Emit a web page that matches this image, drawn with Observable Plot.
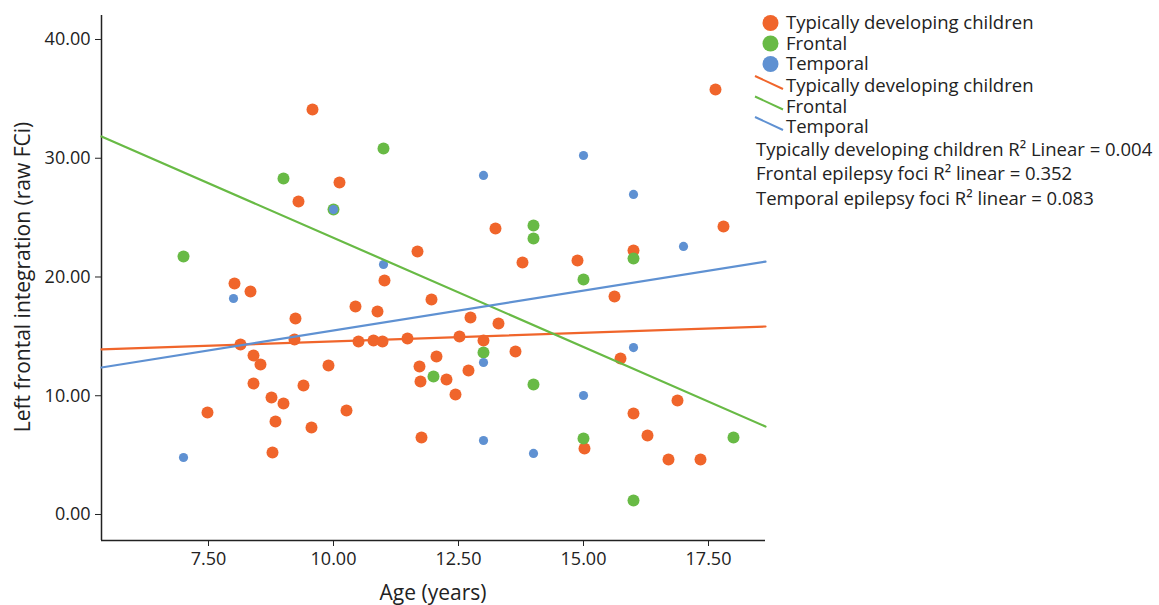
<!DOCTYPE html>
<html>
<head>
<meta charset="utf-8">
<script src="https://cdn.jsdelivr.net/npm/d3@7"></script>
<script src="https://cdn.jsdelivr.net/npm/@observablehq/plot@0.6"></script>
<style>
  body { margin: 0; background: #fff; }
  #wrap { position: relative; width: 1159px; height: 605px; font-family: "Open Sans", sans-serif; color: #222; }
  .t { position: absolute; white-space: nowrap; line-height: 16px; }
  .lg { font-size: 18.5px; }
  .title { font-size: 21px; line-height: 22px; }
  #glyphs { position: absolute; left: 0; top: 0; pointer-events: none; }
</style>
</head>
<body>
<div id="wrap"></div>
<script>
// ---- data ----
const tdAge = [7.48, 8.02, 8.34, 8.14, 8.40, 8.54, 8.40, 8.76, 9.00, 8.84, 8.78, 9.24, 9.22, 9.30, 9.58, 9.40, 9.56, 9.90, 10.12, 10.26, 10.44, 10.50, 10.88, 10.80, 10.98, 11.02, 11.48, 11.68, 11.72, 11.74, 11.76, 11.96, 12.06, 12.26, 12.44, 12.52, 12.74, 12.70, 13.00, 13.24, 13.30, 13.64, 13.78, 14.88, 15.02, 15.62, 15.74, 16.00, 16.00, 16.28, 16.70, 16.88, 17.34, 17.64, 17.80];
const tdFCi = [8.59, 19.45, 18.78, 14.32, 13.39, 12.63, 11.03, 9.85, 9.35, 7.83, 5.22, 16.51, 14.74, 26.36, 34.11, 10.86, 7.33, 12.55, 27.96, 8.76, 17.52, 14.57, 17.09, 14.65, 14.57, 19.71, 14.82, 22.15, 12.46, 11.20, 6.48, 18.11, 13.31, 11.37, 10.11, 14.99, 16.59, 12.13, 14.65, 24.08, 16.08, 13.73, 21.22, 21.39, 5.56, 18.36, 13.14, 22.23, 8.51, 6.65, 4.63, 9.60, 4.63, 35.79, 24.25];

const frontalAge = [7, 9, 10, 11, 12, 13, 14, 14, 14, 15, 15, 16, 16, 18];
const frontalFCi = [21.73, 28.29, 25.68, 30.82, 11.62, 13.64, 24.34, 23.24, 10.95, 19.79, 6.40, 21.56, 1.18, 6.48];

const temporalAge = [7, 8, 10, 11, 13, 13, 13, 14, 15, 15, 16, 16, 17];
const temporalFCi = [4.80, 18.19, 25.68, 21.05, 28.55, 12.80, 6.23, 5.14, 30.23, 10.02, 26.95, 14.06, 22.57];

// fit lines (values at the two ends of the x axis)
const fitAge = [5.36, 18.64];
const tdFit = [13.90, 15.83];
const frontalFit = [31.83, 7.41];
const temporalFit = [12.38, 21.30];

const xTicks = [7.5, 10, 12.5, 15, 17.5];
const yTicks = [0, 10, 20, 30, 40];
const xDomain = [5.36, 18.64];
const yDomain = [-2.19, 42.02];

const groupNames = ["Typically developing children", "Frontal", "Temporal"];
const r2Labels = [
  "Typically developing children R\u00B2 Linear = 0.004",
  "Frontal epilepsy foci R\u00B2 linear = 0.352",
  "Temporal epilepsy foci R\u00B2 linear = 0.083"
];
const colors = ["#F0652B", "#68BA45", "#5F91D2"];

// ---- build tables ----
const zip = (xs, ys) => xs.map((x, i) => ({x, y: ys[i]}));
const td = zip(tdAge, tdFCi);
const frontal = zip(frontalAge, frontalFCi);
const temporal = zip(temporalAge, temporalFCi);

const chart = Plot.plot({
  width: 1159,
  height: 605,
  marginTop: 15,
  marginRight: 394,
  marginBottom: 65,
  marginLeft: 101,
  style: {fontFamily: '"Open Sans", sans-serif', fontSize: "18px", color: "#222", background: "transparent"},
  x: {domain: xDomain, ticks: xTicks, tickFormat: d3.format(".2f"), label: null, tickSize: 6, tickPadding: 6},
  y: {domain: yDomain, ticks: yTicks, tickFormat: d3.format(".2f"), label: null, tickSize: 6, tickPadding: 5},
  marks: [
    Plot.ruleX([xDomain[0]], {stroke: "#222", strokeWidth: 1.5}),
    Plot.ruleY([yDomain[0]], {stroke: "#222", strokeWidth: 1.5}),
    Plot.dot(td, {x: "x", y: "y", r: 6, fill: colors[0]}),
    Plot.dot(frontal, {x: "x", y: "y", r: 6, fill: colors[1]}),
    Plot.dot(temporal, {x: "x", y: "y", r: 4.6, fill: colors[2]}),
    Plot.line(zip(fitAge, tdFit), {x: "x", y: "y", stroke: colors[0], strokeWidth: 2.2}),
    Plot.line(zip(fitAge, frontalFit), {x: "x", y: "y", stroke: colors[1], strokeWidth: 2.2}),
    Plot.line(zip(fitAge, temporalFit), {x: "x", y: "y", stroke: colors[2], strokeWidth: 2.2})
  ]
});

const wrap = document.getElementById("wrap");
wrap.appendChild(chart);

// axis titles
const yt = document.createElement("div");
yt.className = "t title";
yt.textContent = "Left frontal integration (raw FCi)";
yt.style.left = "22px";
yt.style.top = "277px";
yt.style.transform = "translate(-50%, -50%) rotate(-90deg)";
wrap.appendChild(yt);

const xt = document.createElement("div");
xt.className = "t title";
xt.textContent = "Age (years)";
xt.style.left = "433px";
xt.style.top = "592px";
xt.style.transform = "translate(-50%, -50%)";
wrap.appendChild(xt);

// legend glyphs
const ns = "http://www.w3.org/2000/svg";
const g = document.createElementNS(ns, "svg");
g.setAttribute("id", "glyphs");
g.setAttribute("width", 1159);
g.setAttribute("height", 605);
wrap.appendChild(g);

const dotRows = [23, 43.5, 64];
const lineRows = [86, 106.5, 127];
const r2Rows = [150, 174, 199];

groupNames.forEach((name, i) => {
  const c = document.createElementNS(ns, "circle");
  c.setAttribute("cx", 770.5);
  c.setAttribute("cy", dotRows[i]);
  c.setAttribute("r", 8);
  c.setAttribute("fill", colors[i]);
  g.appendChild(c);
  const d = document.createElement("div");
  d.className = "t lg";
  d.textContent = name;
  d.style.left = "786px";
  d.style.top = (dotRows[i] - 9) + "px";
  wrap.appendChild(d);

  const l = document.createElementNS(ns, "line");
  l.setAttribute("x1", 755);
  l.setAttribute("y1", lineRows[i] - 10);
  l.setAttribute("x2", 783);
  l.setAttribute("y2", lineRows[i] + 3);
  l.setAttribute("stroke", colors[i]);
  l.setAttribute("stroke-width", 2);
  g.appendChild(l);
  const d2 = document.createElement("div");
  d2.className = "t lg";
  d2.textContent = name;
  d2.style.left = "786px";
  d2.style.top = (lineRows[i] - 9) + "px";
  wrap.appendChild(d2);

  const d3el = document.createElement("div");
  d3el.className = "t lg";
  d3el.textContent = r2Labels[i];
  d3el.style.left = "756px";
  d3el.style.top = (r2Rows[i] - 9) + "px";
  wrap.appendChild(d3el);
});
</script>
</body>
</html>
